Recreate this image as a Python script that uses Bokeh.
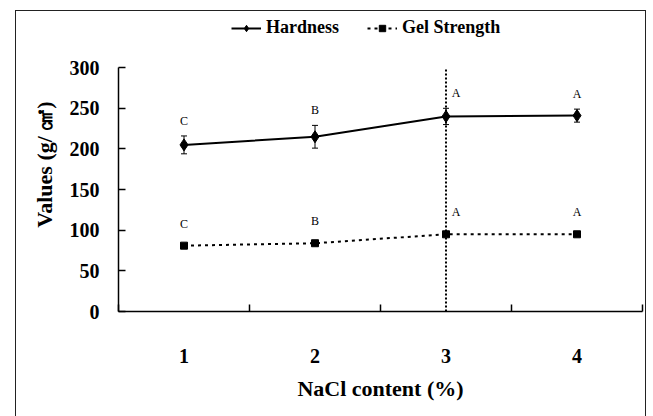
from bokeh.plotting import figure
from bokeh.models import (Range1d, FixedTicker, Whisker, TeeHead, ColumnDataSource,
                          Legend, LegendItem)
from bokeh.core.properties import value
from bokeh.embed import file_html
from bokeh.resources import INLINE

# ---------------- data ----------------
nacl = [1, 2, 3, 4]
tick_labels = ["1", "2", "3", "4"]
hardness = [205, 215, 240, 241]
hardness_err = [11, 14, 10, 8]
gel_strength = [81, 84, 95, 95]
gel_err = [2, 2, 2, 2]
hardness_letters = ["C", "B", "A", "A"]
gel_letters = ["C", "B", "A", "A"]
highlight_x = 3
y_ticks = [0, 50, 100, 150, 200, 250, 300]

SERIF = "Liberation Serif"

# ---------------- layout ----------------
W, H = 631, 406
B_LEFT, B_RIGHT, B_TOP, B_BOTTOM = 102, 5, 6, 106
AXIS_PX = 243                      # pixel height of the 0..300 axis
frame_h = H - 1 - B_TOP - B_BOTTOM
y_top = y_ticks[-1] * frame_h / AXIS_PX

p = figure(width=W, height=H,
           x_range=Range1d(0.5, 4.5), y_range=Range1d(0, y_top),
           output_backend="svg", toolbar_location=None,
           min_border_left=B_LEFT, min_border_right=B_RIGHT,
           min_border_top=B_TOP, min_border_bottom=B_BOTTOM)
p.margin = (10, 0, 0, 15)
p.styles = {"border-left": "1px solid #222", "border-top": "1px solid #222",
            "border-right": "1px solid #222"}
p.outline_line_color = None
p.xgrid.visible = False
p.ygrid.visible = False
p.background_fill_color = "white"
p.border_fill_color = "white"

# x axis
xa = p.xaxis[0]
xa.ticker = FixedTicker(ticks=nacl,
                        minor_ticks=[v - 0.5 for v in nacl] + [nacl[-1] + 0.5])
xa.major_label_overrides = {v: t for v, t in zip(nacl, tick_labels)}
xa.major_tick_in = 0
xa.major_tick_out = 0
xa.minor_tick_in = 7
xa.minor_tick_out = 0
xa.axis_line_width = 1.5
xa.axis_line_color = "black"
xa.minor_tick_line_width = 1.5
xa.minor_tick_line_color = "black"
xa.major_label_text_font = SERIF
xa.major_label_text_font_style = "bold"
xa.major_label_text_font_size = "20px"
xa.major_label_text_color = "black"
xa.major_label_standoff = 37
xa.axis_label = "NaCl content (%)"
xa.axis_label_text_font = SERIF
xa.axis_label_text_font_style = "bold"
xa.axis_label_text_font_size = "22px"
xa.axis_label_text_color = "black"
xa.axis_label_standoff = 10

# y axis
ya = p.yaxis[0]
ya.ticker = FixedTicker(ticks=y_ticks)
ya.bounds = (y_ticks[0], y_ticks[-1])
ya.major_tick_in = 7
ya.major_tick_out = 0
ya.minor_tick_in = 0
ya.minor_tick_out = 0
ya.axis_line_width = 1.5
ya.axis_line_color = "black"
ya.major_tick_line_width = 1.5
ya.major_tick_line_color = "black"
ya.major_label_text_font = SERIF
ya.major_label_text_font_style = "bold"
ya.major_label_text_font_size = "20px"
ya.major_label_text_color = "black"
ya.major_label_standoff = 19
ya.axis_label = "Values (g/ ㎠)"
ya.axis_label_text_font = SERIF
ya.axis_label_text_font_style = "bold"
ya.axis_label_text_font_size = "22px"
ya.axis_label_text_color = "black"
ya.axis_label_standoff = 10

# vertical dotted line at the highlighted NaCl level
p.segment(x0=[highlight_x], y0=[y_ticks[0]], x1=[highlight_x], y1=[y_ticks[-1]],
          line_dash="2 2", line_width=2, line_color="black")

# series
hsrc = ColumnDataSource(dict(
    x=nacl, y=hardness,
    upper=[v + e for v, e in zip(hardness, hardness_err)],
    lower=[v - e for v, e in zip(hardness, hardness_err)],
    lab=hardness_letters,
    dx=[10 if v == highlight_x else 0 for v in nacl]))
gsrc = ColumnDataSource(dict(
    x=nacl, y=gel_strength,
    upper=[v + e for v, e in zip(gel_strength, gel_err)],
    lower=[v - e for v, e in zip(gel_strength, gel_err)],
    lab=gel_letters,
    dx=[10 if v == highlight_x else 0 for v in nacl]))

for src in (hsrc, gsrc):
    p.add_layout(Whisker(source=src, base="x", upper="upper", lower="lower",
                         line_color="black", line_width=1,
                         upper_head=TeeHead(size=6, line_width=1),
                         lower_head=TeeHead(size=6, line_width=1)))

hl = p.line("x", "y", source=hsrc, line_color="black", line_width=2)
hs = p.scatter("x", "y", source=hsrc, marker="diamond", size=12,
               fill_color="black", line_color="black")
gl = p.line("x", "y", source=gsrc, line_color="black", line_width=2,
            line_dash="3 4")
gs = p.scatter("x", "y", source=gsrc, marker="square", size=7,
               fill_color="black", line_color="black")

p.text("x", "upper", text="lab", source=hsrc, x_offset="dx", y_offset=-8,
       text_font=value(SERIF), text_font_size="12px", text_align="center",
       text_baseline="bottom", text_color="black")
p.text("x", "y", text="lab", source=gsrc, x_offset="dx", y_offset=-15,
       text_font=value(SERIF), text_font_size="12px", text_align="center",
       text_baseline="bottom", text_color="black")

legend = Legend(items=[LegendItem(label="Hardness", renderers=[hl, hs]),
                       LegendItem(label="Gel Strength", renderers=[gl, gs])],
                orientation="horizontal", location=(113, 273),
                label_text_font=SERIF, label_text_font_style="bold",
                label_text_font_size="18px", label_text_color="black",
                glyph_width=30, glyph_height=16,
                spacing=28, padding=0, margin=0, label_standoff=5,
                border_line_color=None, background_fill_alpha=0)
p.add_layout(legend)

open("out.html", "w").write(file_html(p, INLINE))
